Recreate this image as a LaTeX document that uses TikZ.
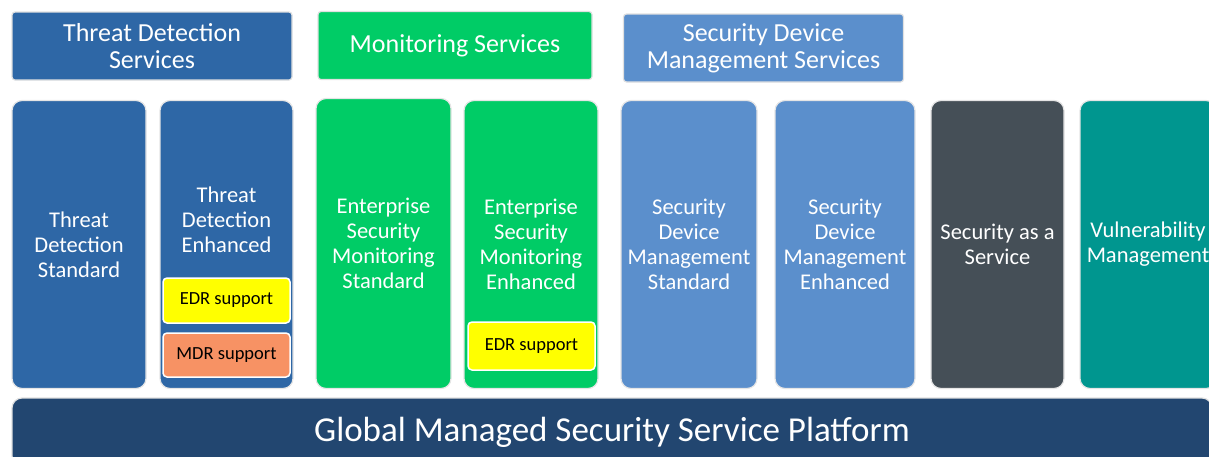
\documentclass[tikz,border=0pt]{standalone}
\usepackage{fontspec}
\setmainfont{Carlito}
\usetikzlibrary{positioning}
\definecolor{tdblue}{RGB}{46,103,166}
\definecolor{mongreen}{RGB}{0,204,102}
\definecolor{sdmblue}{RGB}{91,143,204}
\definecolor{saasgray}{RGB}{69,79,87}
\definecolor{vmteal}{RGB}{0,150,143}
\definecolor{platnavy}{RGB}{34,70,112}
\definecolor{edryellow}{RGB}{255,255,0}
\definecolor{mdrorange}{RGB}{247,146,100}

\begin{document}
\begin{tikzpicture}[x=1pt, y=-1pt,
  hdr/.style={draw=black!12, line width=1.2pt, rounded corners=3pt, text=white, align=center, minimum height=68pt, font=\fontsize{26}{27}\selectfont},
  col/.style={draw=black!10, line width=1.2pt, rounded corners=10pt, text=white, align=center, minimum height=288pt, font=\fontsize{22.5}{25}\selectfont},
  coltext/.style={text=white, align=center, font=\fontsize{22.5}{25}\selectfont},
  addon/.style={draw=white, line width=1.5pt, rounded corners=4pt, minimum width=127pt, font=\fontsize{18.5}{21}\selectfont}]
\useasboundingbox (0,0) rectangle (1209,456);
\clip (0,0) rectangle (1209,456);
% Service group headers
\node[hdr, fill=tdblue, minimum width=280pt] (tdsvc) at (152,46) {Threat Detection\\Services};
\node[hdr, fill=mongreen, minimum width=274pt] (monsvc) at (455,45.5) {Monitoring Services};
\node[hdr, fill=sdmblue, minimum width=280pt] (sdmsvc) at (763.5,48) {Security Device\\Management Services};
% Threat detection columns
\node[col, fill=tdblue, minimum width=134pt] (tdstd) at (79,244.5) {Threat\\Detection\\Standard};
\node[col, fill=tdblue, minimum width=133pt] (tdenh) at (226.5,244.5) {};
\node[coltext] (tdenhlbl) at (226.5,220) {Threat\\Detection\\Enhanced};
\node[addon, fill=edryellow, minimum height=45pt] (edrtd) at (226.5,300.5) {EDR support};
\node[addon, fill=mdrorange, minimum height=44pt] (mdrtd) at (226.5,355) {MDR support};
% Monitoring columns
\node[col, fill=mongreen, minimum width=135pt, minimum height=290pt] (esmstd) at (383.5,243.5) {Enterprise\\Security\\Monitoring\\Standard};
\node[col, fill=mongreen, minimum width=134pt] (esmenh) at (531,244.5) {Enterprise\\Security\\Monitoring\\Enhanced};
\node[addon, fill=edryellow, minimum height=48pt] (edresm) at (531.5,346) {EDR support};
% Device management columns
\node[col, fill=sdmblue, minimum width=136pt] (sdmstd) at (689,244.5) {Security\\Device\\Management\\Standard};
\node[col, fill=sdmblue, minimum width=140pt] (sdmenh) at (845,244.5) {Security\\Device\\Management\\Enhanced};
% Other services
\node[col, fill=saasgray, minimum width=133pt] (saas) at (997.5,244.5) {Security as a\\Service};
\node[col, fill=vmteal, minimum width=136pt] (vulnmgmt) at (1148,244.5) {Vulnerability\\Management};
% Platform
\node[draw=black!12, line width=1.2pt, rounded corners=10pt, fill=platnavy, text=white, minimum width=1200pt, minimum height=68pt, font=\fontsize{35}{37}\selectfont] (platform) at (612,432) {Global Managed Security Service Platform};
\end{tikzpicture}
\end{document}
